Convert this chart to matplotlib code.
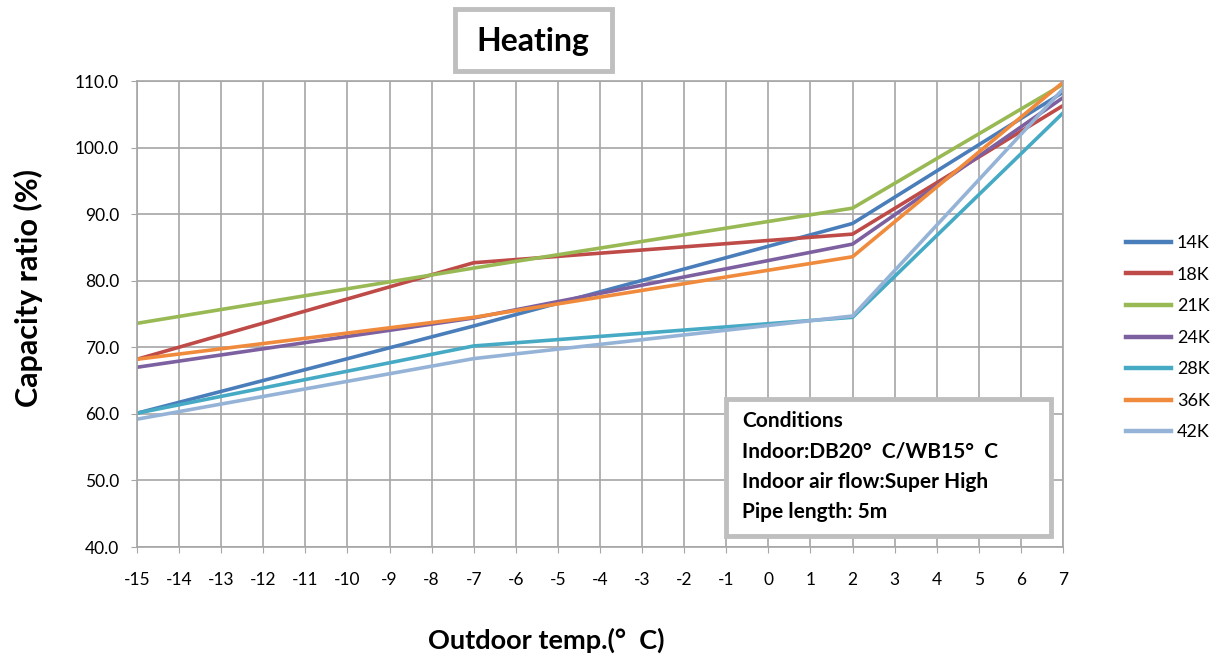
import matplotlib
matplotlib.use("Agg")
import matplotlib.pyplot as plt
from matplotlib.patches import Rectangle

plt.rcParams['font.family'] = ['Lato', 'DejaVu Sans']

# outdoor temperatures where the curves break
temps = [-15, -7, 2, 7]

labels = ["14K", "18K", "21K", "24K", "28K", "36K", "42K"]
ratios = [
    [60.1, 73.2, 88.6, 108.3],   # 14K
    [68.2, 82.7, 87.0, 106.3],   # 18K
    [73.6, 81.9, 90.9, 109.5],   # 21K
    [67.0, 74.4, 85.5, 107.5],   # 24K
    [60.1, 70.2, 74.5, 105.2],   # 28K
    [68.2, 74.5, 83.6, 109.8],   # 36K
    [59.2, 68.3, 74.7, 108.8],   # 42K
]
colors = ["#4A7EBB", "#BE4B48", "#98B954", "#7D60A0", "#46AAC5", "#F08A3C", "#95B3D7"]

xticks = list(range(-15, 8))
yticks = [40, 50, 60, 70, 80, 90, 100, 110]

cond_lines = ["Conditions", "Indoor:DB20°  C/WB15°  C",
              "Indoor air flow:Super High", "Pipe length: 5m"]

W, H = 1221, 659
fig = plt.figure(figsize=(12.21, 6.59), dpi=100)
ax = fig.add_axes([137 / W, 1 - 547 / H, 926 / W, 466 / H])

for lab, vals, col in zip(labels, ratios, colors):
    ax.plot(temps, vals, color=col, lw=2.6, label=lab)

ax.set_xlim(-15, 7)
ax.set_ylim(40, 110)
ax.set_xticks(xticks)
ax.set_xticklabels([str(t) for t in xticks], fontsize=12.5)
ax.set_yticks(yticks)
ax.set_yticklabels(["%.1f" % v for v in yticks], fontsize=12.5)
ax.grid(True, color="#a6a6a6", lw=1.2)
ax.set_axisbelow(True)
for s in ax.spines.values():
    s.set_color("#a6a6a6")
    s.set_linewidth(1.2)
ax.tick_params(axis='x', length=4, color="#a6a6a6", pad=14)
ax.tick_params(axis='y', length=4, color="#a6a6a6", pad=9)

fig.text(28 / W, 1 - 288 / H, "Capacity ratio (%)", fontsize=22, fontweight='bold',
         rotation=90, ha='center', va='center')
fig.text(546 / W, 1 - 640 / H, "Outdoor temp.(°  C)", fontsize=19.5, fontweight='bold',
         ha='center', va='center')

# title in a grey box
fig.patches.append(Rectangle((455 / W, 1 - 71 / H), 157 / W, 62 / H, transform=fig.transFigure,
                             fc='white', ec='#bfbfbf', lw=3.5))
fig.text(533 / W, 1 - 41 / H, "Heating", fontsize=23, fontweight='bold', ha='center', va='center')

# conditions box
fig.patches.append(Rectangle((726 / W, 1 - 536 / H), 325 / W, 137 / H, transform=fig.transFigure,
                             fc='white', ec='#bfbfbf', lw=3.5, zorder=5))
for i, line in enumerate(cond_lines):
    fig.text(742 / W, 1 - (421 + 30.5 * i) / H, line, fontsize=15, fontweight='bold',
             ha='left', va='center', zorder=6)

leg = fig.legend(loc='upper left', bbox_to_anchor=(1110 / W, 1 - 219 / H), frameon=False,
                 fontsize=13, handlelength=2.5, labelspacing=0.86, handletextpad=0.3)
for h in leg.get_lines():
    h.set_linewidth(3.2)

fig.savefig("out.png", dpi=100)
